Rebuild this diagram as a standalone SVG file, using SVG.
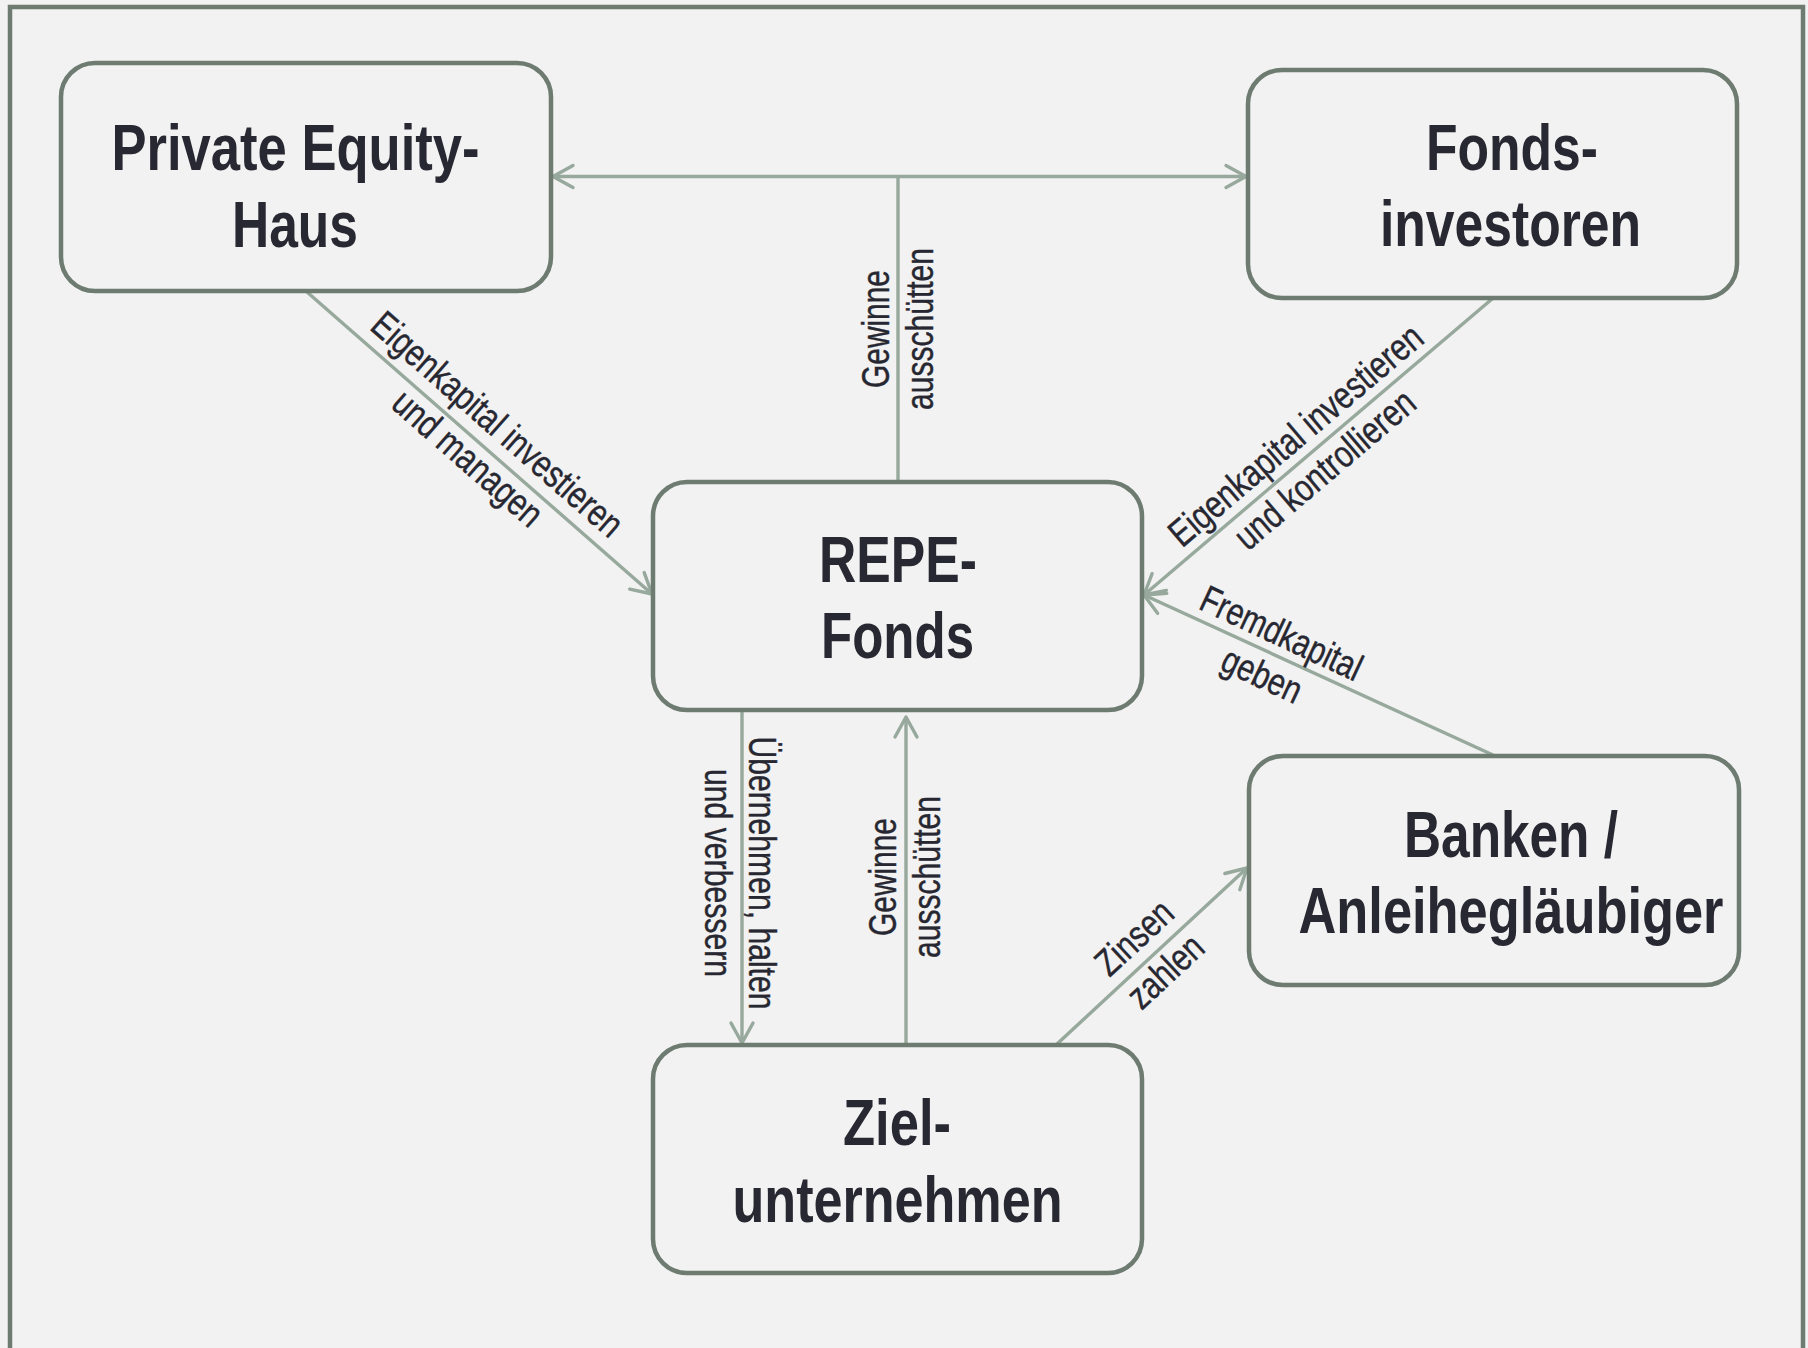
<svg xmlns="http://www.w3.org/2000/svg" width="1808" height="1348" viewBox="0 0 1808 1348">
<defs>
<style>
.bg{fill:#f2f2f2}
.frame{fill:none;stroke:#6e7b71;stroke-width:4.5}
.box{fill:#f2f2f2;stroke:#6e7b71;stroke-width:4.5}
.title{font-family:"Liberation Sans Narrow","Liberation Sans",Arial,sans-serif;font-weight:bold;font-size:64px;fill:#282832;text-anchor:middle}
.lbl{font-family:"Liberation Sans Narrow","Liberation Sans",Arial,sans-serif;font-size:38px;fill:#272731;text-anchor:middle;stroke:#272731;stroke-width:0.4}
.con{fill:none;stroke:#97a89c;stroke-width:3.4}
</style>
<marker id="arr" markerUnits="userSpaceOnUse" viewBox="-26 -14 30 28" refX="0" refY="0" markerWidth="30" markerHeight="28" orient="auto-start-reverse" overflow="visible">
<path d="M-20,-11 L0,0 L-20,11" fill="none" stroke="#97a89c" stroke-width="3.4" stroke-linecap="round" stroke-linejoin="round"/>
</marker>
</defs>
<rect class="bg" x="0" y="0" width="1808" height="1348"/>
<rect class="frame" x="10" y="7" width="1793" height="1400"/>

<g id="connectors">
<line class="con" x1="553" y1="176.5" x2="1246" y2="176.5" marker-start="url(#arr)" marker-end="url(#arr)"/>
<line class="con" x1="898" y1="482" x2="898" y2="176.5"/>
<line class="con" x1="307" y1="292" x2="652" y2="594" marker-end="url(#arr)"/>
<line class="con" x1="1492" y1="299" x2="1144" y2="595" marker-end="url(#arr)"/>
<line class="con" x1="1493" y1="755" x2="1144" y2="595" marker-end="url(#arr)"/>
<line class="con" x1="742" y1="712" x2="742" y2="1043" marker-end="url(#arr)"/>
<line class="con" x1="906" y1="1050" x2="906" y2="717" marker-end="url(#arr)"/>
<line class="con" x1="1057" y1="1044" x2="1247" y2="868" marker-end="url(#arr)"/>

<g transform="translate(889,329) rotate(-90)">
<text class="lbl" x="0" y="0" textLength="118" lengthAdjust="spacingAndGlyphs">Gewinne</text>
<text class="lbl" x="0" y="44" textLength="162" lengthAdjust="spacingAndGlyphs">ausschütten</text>
</g>
<g transform="translate(489,434) rotate(41.2)">
<text class="lbl" x="0" y="0" textLength="320" lengthAdjust="spacingAndGlyphs">Eigenkapital investieren</text>
<text class="lbl" x="0" y="45" textLength="186" lengthAdjust="spacingAndGlyphs">und managen</text>
</g>
<g transform="translate(1304,445) rotate(-40.3)">
<text class="lbl" x="0" y="0" textLength="320" lengthAdjust="spacingAndGlyphs">Eigenkapital investieren</text>
<text class="lbl" x="0" y="45" textLength="224" lengthAdjust="spacingAndGlyphs">und kontrollieren</text>
</g>
<g transform="translate(1276,645) rotate(25)">
<text class="lbl" x="0" y="0" textLength="174" lengthAdjust="spacingAndGlyphs">Fremdkapital</text>
<text class="lbl" x="0" y="46" textLength="84" lengthAdjust="spacingAndGlyphs">geben</text>
</g>
<g transform="translate(749,873) rotate(90)">
<text class="lbl" x="0" y="0" textLength="273" lengthAdjust="spacingAndGlyphs">Übernehmen, halten</text>
<text class="lbl" x="0" y="44" textLength="208" lengthAdjust="spacingAndGlyphs">und verbessern</text>
</g>
<g transform="translate(896,877) rotate(-90)">
<text class="lbl" x="0" y="0" textLength="118" lengthAdjust="spacingAndGlyphs">Gewinne</text>
<text class="lbl" x="0" y="44" textLength="162" lengthAdjust="spacingAndGlyphs">ausschütten</text>
</g>
<g transform="translate(1143,947) rotate(-42.8)">
<text class="lbl" x="0" y="0" textLength="91" lengthAdjust="spacingAndGlyphs">Zinsen</text>
<text class="lbl" x="0" y="46" textLength="89" lengthAdjust="spacingAndGlyphs">zahlen</text>
</g>
</g>

<g id="node-pe-haus">
<rect class="box" x="61" y="63" width="490" height="228" rx="34"/>
<text class="title" x="295.5" y="170" textLength="368" lengthAdjust="spacingAndGlyphs">Private Equity-</text>
<text class="title" x="295" y="247" textLength="126" lengthAdjust="spacingAndGlyphs">Haus</text>
</g>
<g id="node-fondsinvestoren">
<rect class="box" x="1248" y="70" width="489" height="228" rx="34"/>
<text class="title" x="1512" y="170" textLength="172" lengthAdjust="spacingAndGlyphs">Fonds-</text>
<text class="title" x="1510.5" y="246" textLength="261" lengthAdjust="spacingAndGlyphs">investoren</text>
</g>
<g id="node-repe-fonds">
<rect class="box" x="653" y="482" width="489" height="228" rx="34"/>
<text class="title" x="898" y="582" textLength="158" lengthAdjust="spacingAndGlyphs">REPE-</text>
<text class="title" x="897.5" y="658" textLength="153" lengthAdjust="spacingAndGlyphs">Fonds</text>
</g>
<g id="node-banken">
<rect class="box" x="1249" y="756" width="490" height="229" rx="34"/>
<text class="title" x="1511" y="857" textLength="214" lengthAdjust="spacingAndGlyphs">Banken /</text>
<text class="title" x="1511" y="933" textLength="425" lengthAdjust="spacingAndGlyphs">Anleihegläubiger</text>
</g>
<g id="node-zielunternehmen">
<rect class="box" x="653" y="1045" width="489" height="228" rx="34"/>
<text class="title" x="897" y="1145" textLength="108" lengthAdjust="spacingAndGlyphs">Ziel-</text>
<text class="title" x="897.5" y="1222" textLength="330" lengthAdjust="spacingAndGlyphs">unternehmen</text>
</g>
</svg>
